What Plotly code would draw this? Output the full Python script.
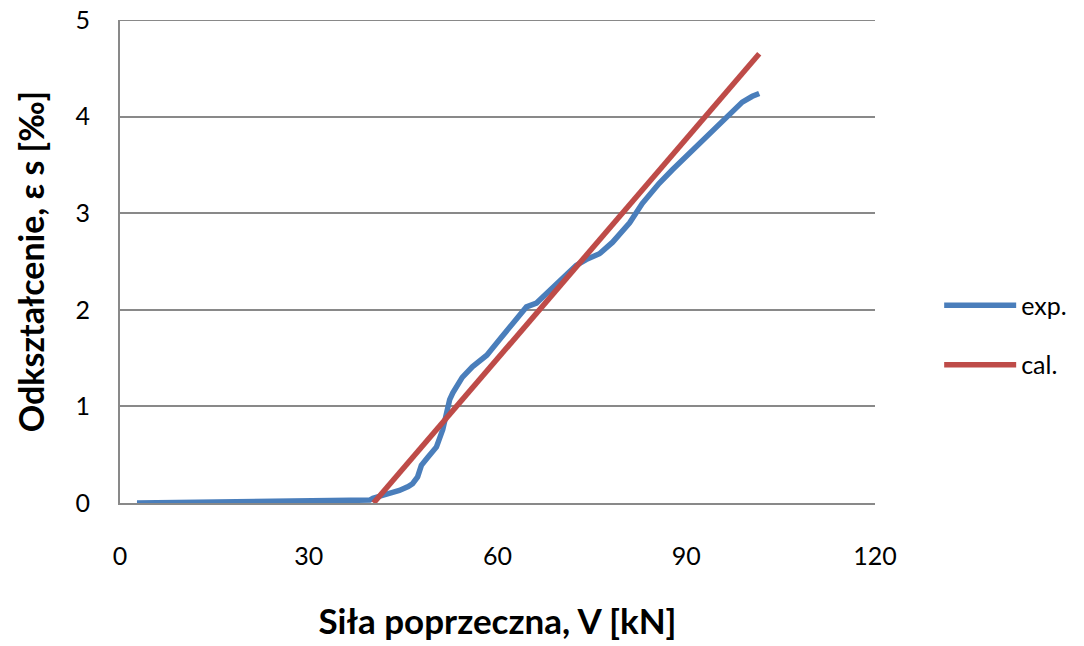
import plotly.graph_objects as go

# Measured strain (exp.)
v_exp = [2.7, 8, 15, 22, 28, 33, 37, 39.7, 40.2, 42.5, 44.4, 45.8, 46.5, 47.3, 47.9, 48.9,
         50.3, 51.3, 51.9, 52.4, 52.9, 53.5, 54.4, 56.0, 58.3, 60.3, 62.4, 64.0, 64.6,
         66.2, 68.3, 70.3, 72.5, 74.1, 76.2, 78.3, 79.5, 81.0, 83.0, 85.7, 87.8,
         91.0, 93.7, 96.8, 98.9, 100.5, 101.6]
eps_exp = [0.0, 0.005, 0.008, 0.01, 0.015, 0.02, 0.025, 0.03, 0.05, 0.09, 0.13, 0.17, 0.2,
           0.27, 0.39, 0.47, 0.58, 0.76, 0.93, 1.07, 1.14, 1.2, 1.3, 1.41, 1.53, 1.69,
           1.86, 2.0, 2.03, 2.07, 2.2, 2.34, 2.46, 2.52, 2.58, 2.70, 2.78, 2.9, 3.1,
           3.31, 3.45, 3.65, 3.81, 4.0, 4.15, 4.21, 4.24]

# Calculated strain (cal.)
v_cal = [40.3, 101.6]
eps_cal = [0.0, 4.65]

x_ticks = [0, 30, 60, 90, 120]
y_ticks = [0, 1, 2, 3, 4, 5]

FONT = "Lato"
BLUE = "#4A7EBB"
RED = "#BE4B48"
GRID = "#898989"

fig = go.Figure()
fig.add_trace(go.Scatter(x=v_exp, y=eps_exp, mode="lines", name="exp.", legendgroup="exp",
                         line=dict(color=BLUE, width=5.5, shape="linear")))
fig.add_trace(go.Scatter(x=v_cal, y=eps_cal, mode="lines", name="cal.", legendgroup="cal",
                         line=dict(color=RED, width=5.5)))

# top gridline at the upper end of the y range
fig.add_shape(type="line", xref="paper", yref="y", x0=0, x1=1, y0=y_ticks[-1], y1=y_ticks[-1],
              line=dict(color=GRID, width=2), layer="below")

fig.update_layout(
    width=1084, height=646,
    margin=dict(l=120, r=207, t=20, b=143),
    paper_bgcolor="white", plot_bgcolor="white",
    font=dict(family=FONT, color="black", size=25),
    legend=dict(x=1.085, y=0.348, xanchor="left", yanchor="middle",
                font=dict(size=25), traceorder="grouped", tracegroupgap=24, itemwidth=72,
                bgcolor="rgba(0,0,0,0)"),
    xaxis=dict(range=[0, 120], tickvals=x_ticks, showgrid=False, automargin=False,
               showline=True, linecolor=GRID, linewidth=2, zeroline=False,
               ticks="", ticklabelstandoff=30,
               title=dict(text="<b>Siła poprzeczna, V [kN]</b>", font=dict(size=35), standoff=40)),
    yaxis=dict(range=[0, 5], tickvals=y_ticks, showgrid=True, gridcolor=GRID, gridwidth=2,
               automargin=False,
               showline=True, linecolor=GRID, linewidth=2, zeroline=False,
               ticks="", ticklabelstandoff=23,
               title=dict(text="<b>Odkształcenie, ε s [‰]</b>", font=dict(size=34), standoff=21)),
)

fig.write_html("out.html")
